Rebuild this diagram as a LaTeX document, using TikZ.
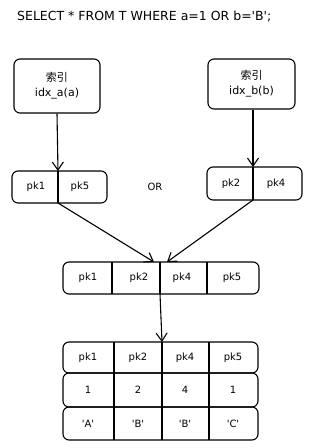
\documentclass[tikz,border=0pt]{standalone}
\usepackage{fontspec}
\setmainfont{DejaVu Sans}
\newfontfamily\cjk{Noto Sans CJK SC}
\usetikzlibrary{arrows.meta}
\newcommand{\q}{\textquotesingle}
\begin{document}
\begin{tikzpicture}[x=1pt,y=-1pt,
  box/.style={draw, line width=1.1pt, rounded corners=6pt, inner sep=0pt},
  txt/.style={font=\fontsize{10}{12}\selectfont, inner sep=1pt},
  cell/.style={line width=1.1pt},
  arr/.style={line width=1.1pt, -{Straight Barb[length=8pt,width=11pt]}}]
\useasboundingbox (0,0) rectangle (324,448);
\node[font=\fontsize{12.5}{14}\selectfont, anchor=west, inner sep=0pt] (q) at (17,16) {SELECT * FROM T WHERE a=1 OR b=\q B\q;};
% index boxes
\node[box, minimum width=86pt, minimum height=54pt, align=center, font=\fontsize{11}{15}\selectfont] (ia) at (57,86) {{\cjk 索引}\\idx\_a(a)};
\node[box, minimum width=87pt, minimum height=50pt, align=center, font=\fontsize{11}{15}\selectfont] (ib) at (251.5,84) {{\cjk 索引}\\idx\_b(b)};
% left pk box
\node[box, minimum width=95pt, minimum height=32pt] (la) at (59.5,187) {};
\node[txt] (la1) at (36,187) {pk1};
\node[txt] (la2) at (80,187) {pk5};
\coordinate (lat) at (58,171);
\coordinate (lab) at (58,203);
\draw[cell] (lat) -- (lab);
% right pk box
\node[box, minimum width=95pt, minimum height=33pt] (lb) at (254.5,183.5) {};
\node[txt] (lb1) at (231,183.5) {pk2};
\node[txt] (lb2) at (276,183.5) {pk4};
\coordinate (lbt) at (253,167);
\coordinate (lbb) at (253,200);
\draw[cell] (lbt) -- (lbb);
\node[txt] (or) at (155,187) {OR};
% arrows from indexes
\draw[arr] (ia.south) -- (lat);
\draw[arr] (ib.south -| lbt) -- (lbt);
% merged box
\node[box, minimum width=196pt, minimum height=32pt] (m) at (161,278) {};
\node[txt] (m1) at (88,278) {pk1};
\node[txt] (m2) at (139,278) {pk2};
\node[txt] (m3) at (182,278) {pk4};
\node[txt] (m4) at (232,278) {pk5};
\draw[cell] (112,262) -- (112,294);
\draw[cell] (160,262) -- (160,294);
\draw[cell] (207,262) -- (207,294);
\coordinate (mt1) at (154,262);
\coordinate (mt2) at (167,262);
\draw[arr] (lab) -- (mt1);
\draw[arr] (lbb) -- (mt2);
\coordinate (mb) at (160,294);
% table
\node[box, minimum width=195pt, minimum height=31pt] (r1) at (160.5,357.5) {};
\node[box, minimum width=195pt, minimum height=34pt] (r2) at (160.5,390) {};
\node[box, minimum width=195pt, minimum height=33pt] (r3) at (160.5,423.5) {};
\foreach \xx in {114,162,209} \draw[cell] (\xx,342) -- (\xx,440);
\coordinate (tt) at (162,342);
\draw[arr] (mb) -- (tt);
\node[txt] (a1) at (88,357.5) {pk1};
\node[txt] (a2) at (138,357.5) {pk2};
\node[txt] (a3) at (185,357.5) {pk4};
\node[txt] (a4) at (233,357.5) {pk5};
\node[txt] (b1) at (88,390) {1};
\node[txt] (b2) at (138,390) {2};
\node[txt] (b3) at (185,390) {4};
\node[txt] (b4) at (233,390) {1};
\node[txt] (c1) at (88,423.5) {\q A\q};
\node[txt] (c2) at (138,423.5) {\q B\q};
\node[txt] (c3) at (185,423.5) {\q B\q};
\node[txt] (c4) at (233,423.5) {\q C\q};
\end{tikzpicture}
\end{document}
